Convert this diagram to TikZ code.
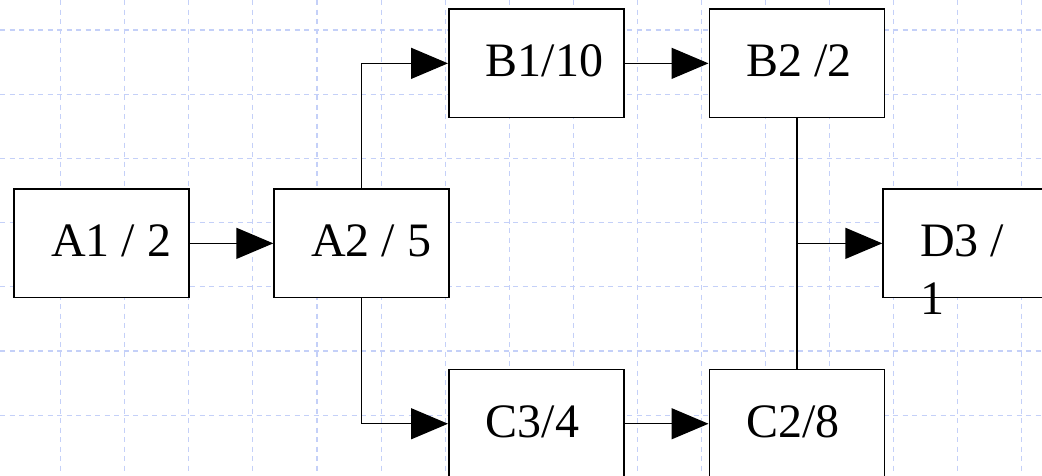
\documentclass[tikz,border=0pt]{standalone}
\usepackage{fontspec}
\setmainfont{Liberation Serif}
\usetikzlibrary{arrows.meta,calc}
\definecolor{gridblue}{RGB}{196,208,248}
\begin{document}
\begin{tikzpicture}[x=1pt,y=-1pt,
  stepbox/.style={draw=black, fill=white, line width=1.6pt, minimum width=175pt, minimum height=108.5pt, inner sep=0pt, anchor=north west},
  lbl/.style={anchor=base west, inner sep=0pt, font=\fontsize{48}{58}\selectfont},
  conn/.style={line width=1.4pt, -{Triangle[length=37pt,width=31pt]}},
  plainline/.style={line width=1.4pt},
  gridline/.style={draw=gridblue, line width=1.1pt, dash pattern=on 5pt off 4.5pt}]
\useasboundingbox (0,0) rectangle (1042,475);
\clip (0,0) rectangle (1042,475);
\fill[white] (0,0) rectangle (1042,475);
\foreach \k in {0,...,15} \draw[gridline] ({60.7+64.07*\k},0) -- ({60.7+64.07*\k},475);
\foreach \k in {0,...,6} \draw[gridline] (0,{30+64.2*\k}) -- (1042,{30+64.2*\k});
% boxes
\node[stepbox] (A1) at (13.3,188.3) {};
\node[stepbox] (A2) at (273.3,188.3) {};
\node[stepbox] (B1) at (448,8.3) {};
\node[stepbox] (B2) at (708.5,8.3) {};
\node[stepbox] (D3) at (882.3,188.3) {};
\node[stepbox] (C3) at (448,368.7) {};
\node[stepbox] (C2) at (708.5,368.7) {};
% connectors
\draw[conn] (A1.east) -- (A2.west);
\draw[conn] (A2.north) |- (B1.west);
\draw[conn] (A2.south) |- (C3.west);
\draw[conn] (B1.east) -- (B2.west);
\draw[conn] (C3.east) -- (C2.west);
\draw[plainline] (B2.south) -- (C2.north);
\coordinate (J) at (B2.south |- D3.west);
\draw[conn] (J) -- (D3.west);
% labels
\node[lbl] (tA1) at ($(A1.north west)+(37.5,68.5)$) {A1 / 2};
\node[lbl] (tA2) at ($(A2.north west)+(37.5,68.5)$) {A2 / 5};
\node[lbl] (tB1) at ($(B1.north west)+(37.5,68.5)$) {B1/10};
\node[lbl] (tB2) at ($(B2.north west)+(37.5,68.5)$) {B2 /2};
\node[lbl] (tC3) at ($(C3.north west)+(37.5,68.5)$) {C3/4};
\node[lbl] (tC2) at ($(C2.north west)+(37.5,68.5)$) {C2/8};
\node[lbl] (tD3) at ($(D3.north west)+(37.5,68.5)$) {\begin{tabular}[t]{@{}l@{}}D3 /\\1\end{tabular}};
\end{tikzpicture}
\end{document}
